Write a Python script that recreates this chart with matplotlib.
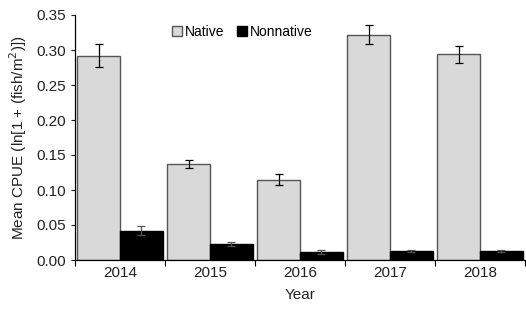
import matplotlib
matplotlib.use("Agg")
import matplotlib.pyplot as plt
import numpy as np

plt.rcParams['font.family'] = ['Liberation Sans', 'DejaVu Sans']

years = ["2014", "2015", "2016", "2017", "2018"]
native = [0.292, 0.137, 0.115, 0.322, 0.294]
native_err = [0.016, 0.006, 0.008, 0.014, 0.012]
nonnative = [0.042, 0.023, 0.012, 0.013, 0.013]
nonnative_err = [0.006, 0.003, 0.003, 0.002, 0.0015]

fig = plt.figure(figsize=(5.26, 3.11), dpi=100)
ax = fig.add_axes([75/526, 1-260/311, 450/526, 245/311])

x = np.arange(len(years))
w = 0.475
ax.bar(x - w/2, native, w, color='#d9d9d9', edgecolor='#555555', linewidth=1.0,
       yerr=native_err, capsize=3, error_kw=dict(elinewidth=0.9, capthick=0.9, ecolor='black'),
       label='Native')
ax.bar(x + w/2, nonnative, w, color='black', edgecolor='black', linewidth=1.0,
       yerr=nonnative_err, capsize=3, error_kw=dict(elinewidth=0.9, capthick=0.9, ecolor='#555555'),
       label='Nonnative')

ax.set_xlim(-0.5, len(years) - 0.5)
ax.set_ylim(0, 0.35)
ax.set_yticks(np.arange(0, 0.351, 0.05))
ax.set_yticklabels([f"{v:.2f}" for v in np.arange(0, 0.351, 0.05)])
ax.set_xticks(x)
ax.set_xticklabels(years)
ax.set_xticks(np.arange(-0.5, len(years), 1.0), minor=True)
ax.tick_params(axis='x', which='major', length=0, labelsize=11, pad=4, colors='#222222')
ax.tick_params(axis='x', which='minor', length=4, width=0.8, direction='out')
ax.tick_params(axis='y', length=3, width=0.8, direction='out', labelsize=11, colors='#222222')
for s in ['top', 'right']:
    ax.spines[s].set_visible(False)
for s in ['left', 'bottom']:
    ax.spines[s].set_linewidth(0.9)

ax.set_xlabel('Year', fontsize=11, color='#222222', labelpad=6)
ax.set_ylabel('Mean CPUE (ln[1 + (fish/m$^2$)])', fontsize=11, color='#222222', labelpad=5)

ax.legend(loc='upper left', bbox_to_anchor=(0.195, 1.0), ncol=2, frameon=False,
          fontsize=10, handlelength=0.7, handleheight=0.7, handletextpad=0.2,
          columnspacing=0.9, borderaxespad=0.3)

fig.savefig('out.png', dpi=100)
